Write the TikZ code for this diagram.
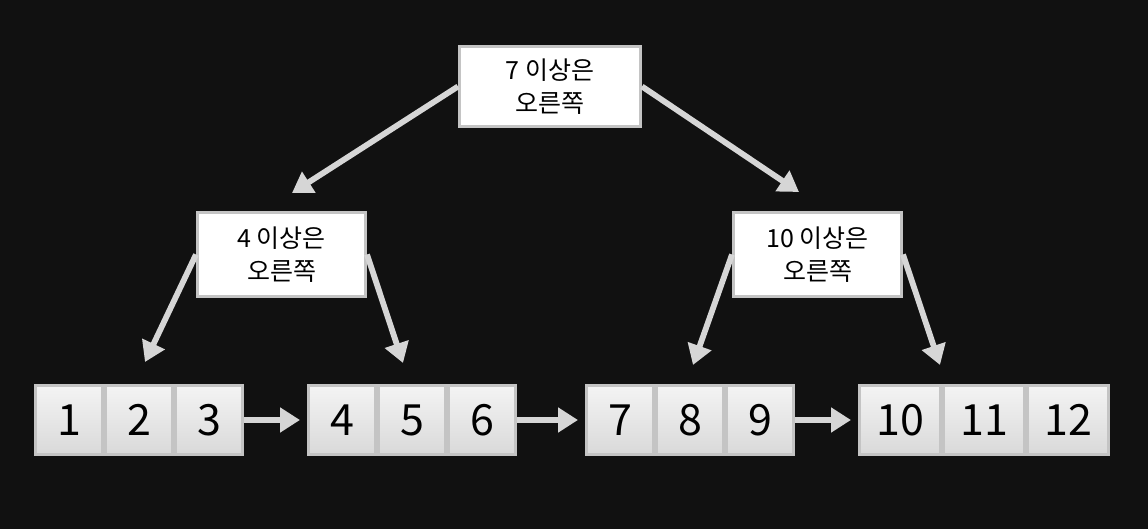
\documentclass[tikz,border=0pt]{standalone}
\usepackage{fontspec}
\setmainfont{Noto Sans CJK KR}
\usetikzlibrary{arrows.meta,positioning}
\definecolor{bpBack}{HTML}{111111}
\definecolor{bpEdge}{HTML}{C4C4C4}
\definecolor{bpCell}{HTML}{ECECEC}
\definecolor{bpArrow}{HTML}{D6D6D6}
\tikzset{
  box/.style={
    draw=bpEdge,
    line width=1.5pt,
    fill=white,
    align=center,
    minimum width=84pt,
    minimum height=42pt,
    inner sep=2pt,
    font=\fontsize{12.5}{16.5}\selectfont
  },
  cell/.style={
    draw=bpEdge,
    line width=1.5pt,
    top color=bpCell!60!white,
    bottom color=bpCell!92!black,
    minimum width=33.5pt,
    minimum height=34.5pt,
    inner sep=0pt,
    font=\fontsize{21.5}{24}\selectfont
  },
  widecell/.style={cell, minimum width=40.5pt},
  arrow/.style={-{Triangle[length=10pt,width=12pt]}, line width=2.9pt, draw=bpArrow}
}
\begin{document}
\begin{tikzpicture}[x=0.5pt, y=-0.5pt]
  \fill[bpBack] (0,0) rectangle (1148,529);

  % tree of keys
  \node[box, minimum width=90.5pt, minimum height=40pt] (root) at (550,86.5) {7 이상은\\오른쪽};
  \node[box] (left) at (281.5,254.5) {4 이상은\\오른쪽};
  \node[box] (right) at (817.5,254.5) {10 이상은\\오른쪽};

  % leaf pages
  \node[cell] (n1) at (69,420) {1};
  \node[cell, right=0pt of n1] (n2) {2};
  \node[cell, right=0pt of n2] (n3) {3};
  \node[cell] (n4) at (342,420) {4};
  \node[cell, right=0pt of n4] (n5) {5};
  \node[cell, right=0pt of n5] (n6) {6};
  \node[cell] (n7) at (620,420) {7};
  \node[cell, right=0pt of n7] (n8) {8};
  \node[cell, right=0pt of n8] (n9) {9};
  \node[widecell] (n10) at (900,420) {10};
  \node[widecell, right=0pt of n10] (n11) {11};
  \node[widecell, right=0pt of n11] (n12) {12};

  \coordinate (toLeft) at (292,193);
  \coordinate (toRight) at (799,192);
  \coordinate (toA) at (145,362);
  \coordinate (toB) at (403,363);
  \coordinate (toC) at (693,365);
  \coordinate (toD) at (940,365);

  \draw[arrow] (root.west) -- (toLeft);
  \draw[arrow] (root.east) -- (toRight);
  \draw[arrow] (left.west) -- (toA);
  \draw[arrow] (left.east) -- (toB);
  \draw[arrow] (right.west) -- (toC);
  \draw[arrow] (right.east) -- (toD);

  % sibling links
  \draw[arrow, shorten >=3.5pt] (n3.east) -- (n4.west);
  \draw[arrow, shorten >=3.5pt] (n6.east) -- (n7.west);
  \draw[arrow, shorten >=3.5pt] (n9.east) -- (n10.west);
\end{tikzpicture}
\end{document}
